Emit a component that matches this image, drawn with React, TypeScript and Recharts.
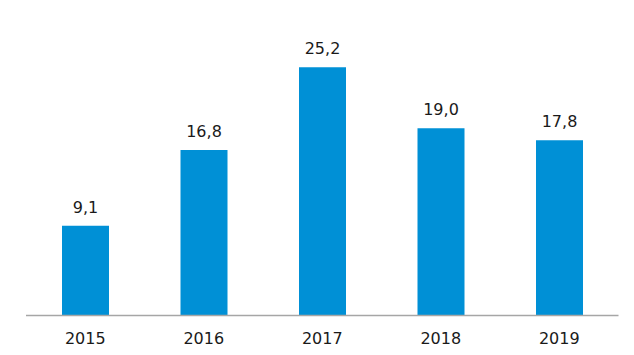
import { BarChart, Bar, XAxis, YAxis, LabelList } from 'recharts';

const years = ['2015', '2016', '2017', '2018', '2019'];
const values = [9.1, 16.8, 25.2, 19.0, 17.8];

const data = years.map((year, i) => ({ year, value: values[i] }));

const font = 'Verdana, "DejaVu Sans", sans-serif';

export default function App() {
  return (
    <div style={{ position: 'absolute', left: 0, top: 0, width: 634, height: 355, background: '#fff' }}>
      <BarChart
        width={634}
        height={355}
        data={data}
        margin={{ top: 22, right: 15.5, left: 26, bottom: 0 }}
      >
        <XAxis
          dataKey="year"
          height={39.5}
          axisLine={{ stroke: '#a6a6a6', strokeWidth: 1.5 }}
          tickLine={false}
          tickSize={6}
          tickMargin={11}
          tick={{ fontSize: 16, fill: '#1a1a1a', fontFamily: font }}
        />
        <YAxis hide domain={[0, 29.8]} />
        <Bar dataKey="value" fill="#0090d6" barSize={47} isAnimationActive={false}>
          <LabelList
            dataKey="value"
            position="top"
            offset={13}
            formatter={(v: number) => v.toFixed(1).replace('.', ',')}
            style={{ fontSize: 16, fill: '#1a1a1a', fontFamily: font }}
          />
        </Bar>
      </BarChart>
    </div>
  );
}
